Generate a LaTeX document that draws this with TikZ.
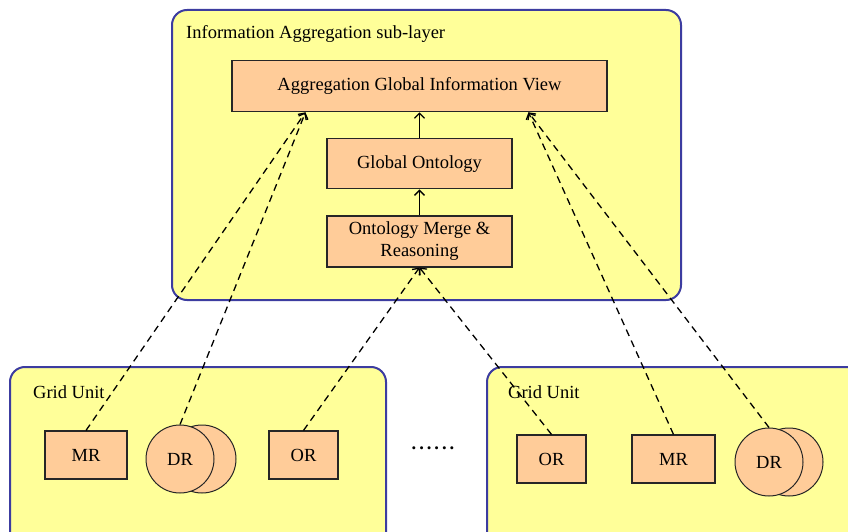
\documentclass[tikz,border=0pt]{standalone}
\usepackage{fontspec}
\setmainfont{Liberation Serif}
\usetikzlibrary{shapes,arrows,arrows.meta}
\usetikzlibrary{calc}
\usetikzlibrary{positioning}
\definecolor{layerfill}{HTML}{FFFF99}
\definecolor{layerline}{HTML}{3C3CA0}
\definecolor{boxfill}{HTML}{FFCC99}
\tikzstyle{layer} = [draw=layerline, fill=layerfill, line width=2pt,
    rounded corners=15pt, inner sep=0pt]
\tikzstyle{layername} = [anchor=west, inner sep=0pt]
\tikzstyle{block} = [draw=black!85, fill=boxfill, rectangle, line width=1.1pt,
    inner sep=0pt, align=center, minimum height=48pt]
\tikzstyle{store} = [draw=black!85, fill=boxfill, circle, line width=1pt,
    inner sep=0pt, minimum size=68pt]
\tikzstyle{flow} = [->, line width=1.3pt]
\tikzstyle{link} = [->, dash pattern=on 7pt off 5pt, line width=1.3pt]

\begin{document}
\begin{tikzpicture}[x=1pt, y=1pt, node distance=26pt,
    >={Straight Barb[length=5pt,width=10pt]},
    font=\fontsize{18.5}{22}\selectfont]
    \clip (0,0) rectangle (848,531);

    % The layers come first, so everything else sits on top of them
    \node [layer, minimum width=509pt, minimum height=290pt] (infolayer) at (426.5,376) {};
    \node [layer, minimum width=376pt, minimum height=240pt] (unitL) at (198,44) {};
    \node [layer, minimum width=413pt, minimum height=240pt] (unitR) at (693.5,44) {};
    \node [layername] (infoname) at (186,497) {Information Aggregation sub-layer};
    \node [layername] (unitnameL) at (33,139) {Grid Unit};
    \node [layername] (unitnameR) at (508,139) {Grid Unit};

    % The aggregation stack, placed from the bottom up
    \node [block, minimum width=185pt, minimum height=51pt] (merge) at (419.5,289.5) {Ontology Merge \&\\Reasoning};
    \node [block, minimum width=185pt, minimum height=50pt, above=of merge] (ontology) {Global Ontology};
    \node [block, minimum width=375pt, minimum height=51pt, above=of ontology] (view) {Aggregation Global Information View};

    % Left grid unit
    \node [block, minimum width=82pt] (mrL) at (86,76) {MR};
    \node [store] (drbackL) at (202,72) {};
    \node [store] (drL) at (180,72) {DR};
    \node [block, minimum width=69pt] (orL) at (303.5,76) {OR};

    \node (dots) at (433,83) {\textbf{.\hspace{3pt}.\hspace{3pt}.\hspace{3pt}.\hspace{3pt}.\hspace{3pt}.}};

    % Right grid unit
    \node [block, minimum width=69pt] (orR) at (551.5,72) {OR};
    \node [block, minimum width=83pt] (mrR) at (673.5,72) {MR};
    \node [store] (drbackR) at (789,69) {};
    \node [store] (drR) at (769,69) {DR};

    % Where the dashed links meet the view
    \coordinate (viewL) at ($(view.south west)+(74,0)$);
    \coordinate (viewR) at ($(view.south west)+(297,0)$);

    % Once the nodes are placed, connecting them is easy.
    \draw [flow] (merge) -- (ontology);
    \draw [flow] (ontology) -- (view);
    \draw [link] (mrL.north) -- (viewL);
    \draw [link] (drL.north) -- (viewL);
    \draw [link] (orL.north) -- (merge.south);
    \draw [link] (orR.north) -- (merge.south);
    \draw [link] (mrR.north) -- (viewR);
    \draw [link] (drR.north) -- (viewR);
\end{tikzpicture}
\end{document}
